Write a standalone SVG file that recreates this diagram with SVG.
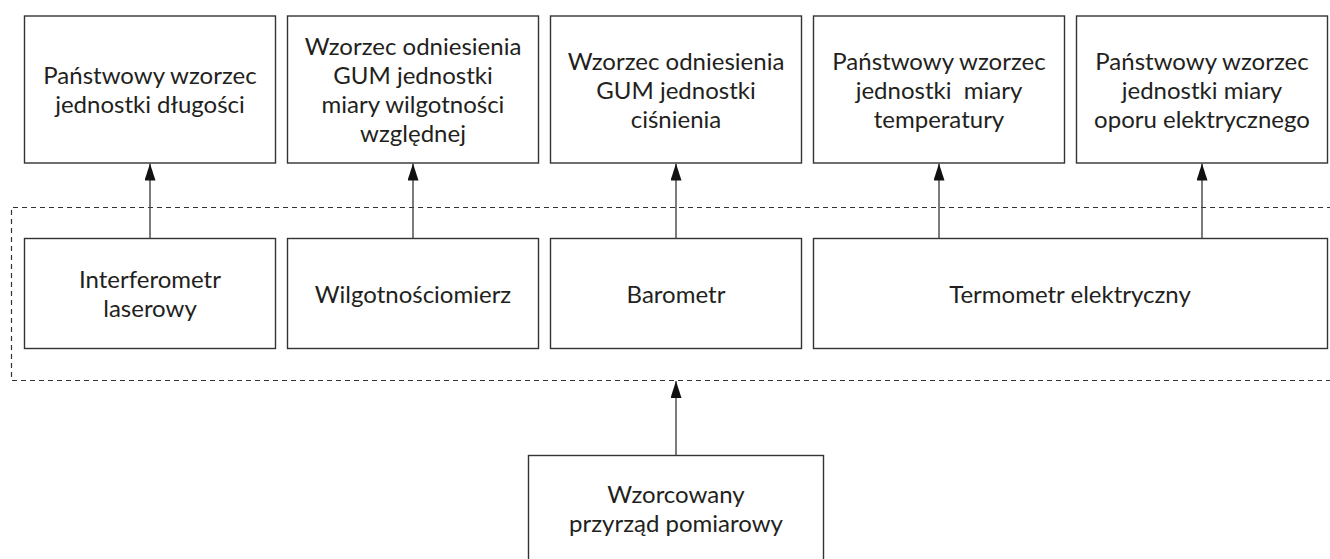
<svg xmlns="http://www.w3.org/2000/svg" width="1330" height="559" viewBox="0 0 1330 559">
<style>
.box{fill:#fff;stroke:#333;stroke-width:1.4}
.lbl{font-family:Lato,"Liberation Sans",sans-serif;font-size:24px;fill:#231f20;text-anchor:middle}
.con{stroke:#444;stroke-width:1.4;fill:none}
.dash{stroke:#333;stroke-width:1.2;fill:none;stroke-dasharray:5 4}
</style>
<defs>
<marker id="ah" markerUnits="userSpaceOnUse" markerWidth="17" markerHeight="11" refX="17" refY="5.5" orient="auto" viewBox="0 0 17 11">
<path d="M0,0 L17,5.5 L0,11 z" fill="#111"/>
</marker>
</defs>
<rect width="1330" height="559" fill="#fff"/>
<path class="dash" d="M1332,207.5 H11.5 V380.5 H1332"/>
<g id="top1"><rect class="box" x="24.5" y="16" width="251" height="147"/>
<text class="lbl" x="150" y="84">Państwowy wzorzec</text><text class="lbl" x="150" y="113">jednostki długości</text></g>
<g id="top2"><rect class="box" x="287.5" y="16" width="251" height="147"/>
<text class="lbl" x="413" y="55">Wzorzec odniesienia</text><text class="lbl" x="413" y="84">GUM jednostki</text><text class="lbl" x="413" y="113">miary wilgotności</text><text class="lbl" x="413" y="142">względnej</text></g>
<g id="top3"><rect class="box" x="550.5" y="16" width="251" height="147"/>
<text class="lbl" x="676" y="69.5">Wzorzec odniesienia</text><text class="lbl" x="676" y="98.5">GUM jednostki</text><text class="lbl" x="676" y="127.5">ciśnienia</text></g>
<g id="top4"><rect class="box" x="813.5" y="16" width="251" height="147"/>
<text class="lbl" x="939" y="69.5">Państwowy wzorzec</text><text class="lbl" x="939" y="98.5" xml:space="preserve">jednostki  miary</text><text class="lbl" x="939" y="127.5">temperatury</text></g>
<g id="top5"><rect class="box" x="1076.5" y="16" width="251" height="147"/>
<text class="lbl" x="1202" y="69.5">Państwowy wzorzec</text><text class="lbl" x="1202" y="98.5">jednostki miary</text><text class="lbl" x="1202" y="127.5">oporu elektrycznego</text></g>
<g id="low1"><rect class="box" x="24.5" y="238.5" width="251" height="110"/>
<text class="lbl" x="150" y="288">Interferometr</text><text class="lbl" x="150" y="317">laserowy</text></g>
<g id="low2"><rect class="box" x="287.5" y="238.5" width="251" height="110"/>
<text class="lbl" x="413" y="302.5">Wilgotnościomierz</text></g>
<g id="low3"><rect class="box" x="550.5" y="238.5" width="251" height="110"/>
<text class="lbl" x="676" y="302.5">Barometr</text></g>
<g id="low4"><rect class="box" x="813.5" y="238.5" width="514" height="110"/>
<text class="lbl" x="1070" y="302.5">Termometr elektryczny</text></g>
<g id="bottom"><rect class="box" x="528.5" y="455.5" width="295" height="120"/>
<text class="lbl" x="676" y="503">Wzorcowany</text><text class="lbl" x="676" y="532">przyrząd pomiarowy</text></g>
<g id="connectors">
<line class="con" x1="150" y1="238.5" x2="150" y2="163.5" marker-end="url(#ah)"/>
<line class="con" x1="413" y1="238.5" x2="413" y2="163.5" marker-end="url(#ah)"/>
<line class="con" x1="676" y1="238.5" x2="676" y2="163.5" marker-end="url(#ah)"/>
<line class="con" x1="939" y1="238.5" x2="939" y2="163.5" marker-end="url(#ah)"/>
<line class="con" x1="1202" y1="238.5" x2="1202" y2="163.5" marker-end="url(#ah)"/>
<line class="con" x1="676" y1="455.5" x2="676" y2="381" marker-end="url(#ah)"/>
</g>
</svg>
